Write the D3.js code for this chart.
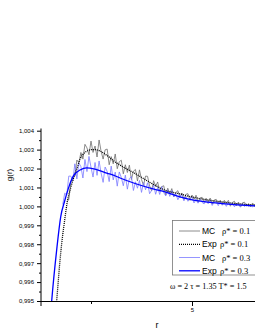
<!DOCTYPE html>
<html><head><meta charset="utf-8">
<script src="https://cdn.jsdelivr.net/npm/d3@7"></script>
<style>body{margin:0;background:#fff}svg{display:block}</style>
</head><body>
<svg id="c" width="255" height="330"></svg>
<script>
// ---- data ----
const yTicks = [0.995, 0.996, 0.997, 0.998, 0.999, 1.000, 1.001, 1.002, 1.003, 1.004];
const xTicks = [5];
const xMinor = [2.5];

// Exp rho*=0.1 (black dotted)
const expR1 = [1.60, 1.65, 1.757, 1.85, 1.91, 2.00, 2.15, 2.23, 2.35, 2.52, 2.60, 2.89, 3.09, 3.22, 3.59, 4.08, 4.33, 4.70, 4.95, 5.69, 6.56, 7.5];
const expG1 = [0.9937, 0.995, 0.99769, 0.9993, 1.0002, 1.0010, 1.0020, 1.0025, 1.00285, 1.0030, 1.0030, 1.0027, 1.00236, 1.00218, 1.00174, 1.00112, 1.00086, 1.00066, 1.00052, 1.00025, 1.00007, 1.00001];
// Exp rho*=0.3 (blue)
const expR3 = [1.48, 1.527, 1.65, 1.75, 1.85, 1.94, 2.06, 2.23, 2.39, 2.60, 2.89, 3.09, 3.22, 3.59, 4.08, 4.33, 4.70, 4.95, 5.69, 6.56, 7.5];
const expG3 = [0.9937, 0.995, 0.99769, 0.99945, 1.0003, 1.00095, 1.0016, 1.00192, 1.00204, 1.00197, 1.00176, 1.00162, 1.0015, 1.00121, 1.0009, 1.00077, 1.0005, 1.00037, 1.00016, 1.00003, 0.99999];

// MC rho*=0.1 (gray), r = 1.90 + 0.05*i
const mcStart1 = 1.90, mcStep = 0.05;
const mcG1 = [1.00025, 1.00035, 1.0013, 1.0015, 1.0016, 1.00245, 1.0023, 1.00285, 1.0025, 1.00328,
  1.00309, 1.00273, 1.00345, 1.00285, 1.00319, 1.00261, 1.00351, 1.00291, 1.0025, 1.00299,
  1.00303, 1.0022, 1.00263, 1.00225, 1.00277, 1.00199, 1.00236, 1.00244, 1.00172, 1.0022,
  1.00179, 1.00218, 1.00142, 1.00186, 1.00195, 1.00134, 1.00193, 1.00142, 1.00111, 1.0016,
  1.00159, 1.00108, 1.00082, 1.00136, 1.00105, 1.00129, 1.00079, 1.00104, 1.00109, 1.0006,
  1.00096, 1.00067, 1.00094, 1.00051, 1.00073, 1.00083, 1.00047, 1.00071, 1.00037, 1.00064,
  1.00067, 1.00032, 1.0006, 1.00038, 1.00059, 1.00022, 1.00045, 1.00048, 1.00021, 1.00043,
  1.00023, 1.00044, 1.00012, 1.00034, 1.00037, 1.00014, 1.00033, 1.00009, 1.00032, 1.00016,
  1.00032, 1.00001, 1.00021, 1.00027, 1.00004, 1.00023, 0.99996, 1.00019, 1.00022, 1.00001,
  1.00015, 0.99997, 1.00018, 0.99999, 1.0001];
// MC rho*=0.3 (light blue), r = 1.80 + 0.05*i
const mcStart3 = 1.80;
const mcG3 = [1.0001, 1.0007, 1.0006, 1.0016, 1.0016, 1.00135, 1.00225, 1.00145, 1.0023, 1.0021,
  1.0015, 1.00248, 1.00184, 1.00264, 1.00207, 1.00155, 1.00232, 1.00164, 1.0024, 1.00176,
  1.00127, 1.00208, 1.00185, 1.00131, 1.00213, 1.0014, 1.00181, 1.00107, 1.00182, 1.00153,
  1.00109, 1.00165, 1.00091, 1.00147, 1.00158, 1.00084, 1.0013, 1.00096, 1.00137, 1.00074,
  1.00126, 1.00088, 1.00125, 1.00067, 1.00084, 1.00111, 1.00064, 1.00101, 1.00063, 1.00105,
  1.00073, 1.00055, 1.00087, 1.00053, 1.00084, 1.0005, 1.00068, 1.00035, 1.00058, 1.00062,
  1.00029, 1.00052, 1.00027, 1.00042, 1.0005, 1.00018, 1.00039, 1.00017, 1.00038, 1.00021,
  1.00013, 1.00033, 1.00014, 1.00033, 1.00005, 1.00024, 1.00025, 1.00004, 1.00025, 1.00006,
  1.00018, 1.0000, 1.00021, 1.00006, 1.00017, 0.99998, 1.00014, 1.0001, 0.99997, 1.00014,
  0.99999, 1.00011, 0.99999, 1.00007, 0.99997, 1.00008, 1.0000];

const legendNames = ["MC", "Exp", "MC", "Exp"];
const legendRho = ["0.1", "0.1", "0.3", "0.3"];
const annotation = "ω = 2 τ = 1.35 T* = 1.5";

// ---- chart ----
const svg = d3.select("#c");
const x = d3.scaleLinear().domain([1.25, 10]).range([40.5, 394]);
const y = d3.scaleLinear().domain([0.995, 1.004]).range([301, 130.7]);

svg.append("defs").append("clipPath").attr("id", "clip")
  .append("rect").attr("x", 41).attr("y", 110).attr("width", 400).attr("height", 191);

const line = d3.line().x(d => x(d[0])).y(d => y(d[1]));
const smooth = d3.line().x(d => x(d[0])).y(d => y(d[1])).curve(d3.curveMonotoneX);

const plot = svg.append("g").attr("clip-path", "url(#clip)");
const mc1 = mcG1.map((g, i) => [mcStart1 + mcStep * i, g]);
const mc3 = mcG3.map((g, i) => [mcStart3 + mcStep * i, g]);
const ex1 = expR1.map((r, i) => [r, expG1[i]]);
const ex3 = expR3.map((r, i) => [r, expG3[i]]);

plot.append("path").attr("d", line(mc1)).attr("fill", "none").attr("stroke", "#6e6e6e").attr("stroke-width", 0.8);
plot.append("path").attr("d", line(mc3)).attr("fill", "none").attr("stroke", "#7a7aff").attr("stroke-width", 0.8);
plot.append("path").attr("d", smooth(ex1)).attr("fill", "none").attr("stroke", "#000").attr("stroke-width", 1.3).attr("stroke-dasharray", "1,1");
plot.append("path").attr("d", smooth(ex3)).attr("fill", "none").attr("stroke", "#0000ff").attr("stroke-width", 1.3);

// axes
const fmt = v => d3.format(".3f")(v).replace(".", ",");
const yAxis = svg.append("g").attr("transform", "translate(41,0)")
  .call(d3.axisLeft(y).tickValues(yTicks).tickFormat(fmt).tickSizeOuter(0).tickSize(4).tickPadding(3));
const yMinor = yTicks.slice(0, -1).map(v => v + 0.0005);
svg.append("g").attr("transform", "translate(41,0)")
  .call(d3.axisLeft(y).tickValues(yMinor).tickFormat("").tickSizeOuter(0).tickSize(2))
  .select(".domain").remove();
yAxis.select(".domain").attr("d", "M0,301V128.5");

const xAxis = svg.append("g").attr("transform", "translate(0,301)")
  .call(d3.axisBottom(x).tickValues(xTicks).tickFormat(d3.format("d")).tickSizeOuter(0).tickSize(5).tickPadding(2));
svg.append("g").attr("transform", "translate(0,301)")
  .call(d3.axisBottom(x).tickValues(xMinor).tickFormat("").tickSizeOuter(0).tickSize(3))
  .select(".domain").remove();

svg.selectAll(".tick text").attr("font-family", "Liberation Sans, Arial, sans-serif").attr("font-size", 6).attr("fill", "#000");
svg.selectAll(".tick line, .domain").attr("stroke", "#000").attr("stroke-width", 1);

// axis titles
svg.append("text").attr("transform", "translate(12,175) rotate(-90)").attr("text-anchor", "middle")
  .attr("font-family", "Liberation Sans, Arial, sans-serif").attr("font-size", 8).text("g(r)");
svg.append("text").attr("x", 157).attr("y", 328).attr("text-anchor", "middle")
  .attr("font-family", "Liberation Sans, Arial, sans-serif").attr("font-size", 9).text("r");

// legend
const lg = svg.append("g");
lg.append("rect").attr("x", 172.5).attr("y", 220.5).attr("width", 100).attr("height", 54.5)
  .attr("fill", "#fff").attr("stroke", "#777").attr("stroke-width", 0.8);
const lStyles = [
  {stroke: "#6e6e6e", w: 0.8, dash: null},
  {stroke: "#000", w: 1.2, dash: "1,1"},
  {stroke: "#7a7aff", w: 0.8, dash: null},
  {stroke: "#0000ff", w: 1.3, dash: null}
];
const rowY = [231, 244.3, 257.5, 270.8];
legendNames.forEach((n, i) => {
  const s = lStyles[i];
  const l = lg.append("line").attr("x1", 179).attr("x2", 200).attr("y1", rowY[i]).attr("y2", rowY[i])
    .attr("stroke", s.stroke).attr("stroke-width", s.w);
  if (s.dash) l.attr("stroke-dasharray", s.dash);
  const t = lg.append("text").attr("x", 202).attr("y", rowY[i] + 3).attr("font-size", 8.5);
  t.append("tspan").attr("font-family", "Liberation Sans, Arial, sans-serif").text(n);
  t.append("tspan").attr("x", n === "MC" ? 222 : 220).attr("font-family", "Liberation Serif, Times New Roman, serif")
    .text("ρ* = " + legendRho[i]);
});
svg.append("text").attr("x", 170).attr("y", 289).attr("font-size", 8.2)
  .attr("font-family", "Liberation Serif, Times New Roman, serif").text(annotation);
</script>
</body></html>
